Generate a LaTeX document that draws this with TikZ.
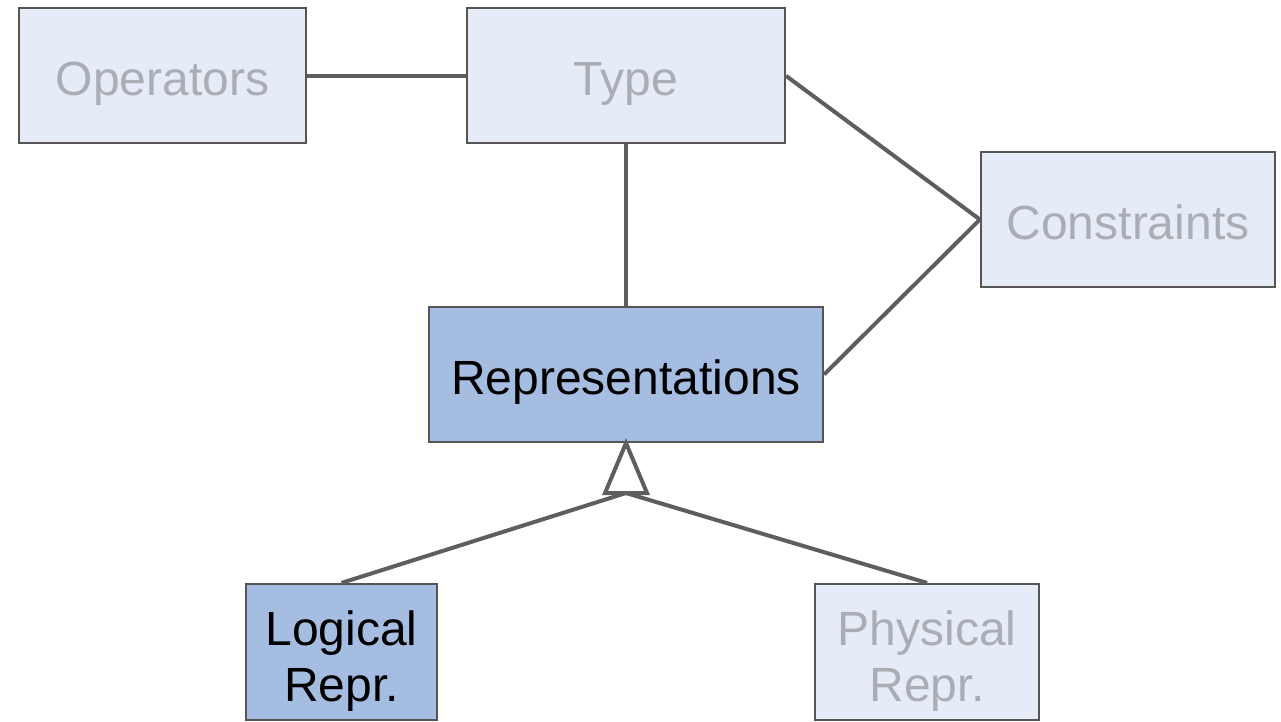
\documentclass[tikz,border=0pt]{standalone}
\usepackage{fontspec}
\setmainfont{Liberation Sans}
\definecolor{paleblue}{HTML}{E6ECF7}
\definecolor{midblue}{HTML}{A4BDE1}
\definecolor{fadedtext}{HTML}{AAAEB4}
\definecolor{edgegray}{HTML}{5E5E5E}
\definecolor{framegray}{HTML}{555555}
\begin{document}
\begin{tikzpicture}[x=1pt,y=-1pt,
  box/.style={draw=framegray,line width=2.2pt,rectangle,inner sep=0pt,
    font=\fontsize{48}{56}\selectfont,align=center},
  oneline/.style={text height=39pt,text depth=0pt},
  twoline/.style={text height=98pt,text depth=0pt},
  faded/.style={box,fill=paleblue,text=fadedtext},
  active/.style={box,fill=midblue,text=black},
  link/.style={draw=edgegray,line width=4pt},
  hollow/.style={draw=edgegray,line width=4pt,fill=white,line join=miter}]
\useasboundingbox (0,0) rectangle (1281,721);
% boxes: centres and sizes
\node[faded,oneline,minimum width=287pt,minimum height=135pt] (ops) at (162.5,75.5) {Operators};
\node[faded,oneline,minimum width=318pt,minimum height=135pt] (type) at (626,75.5) {Type};
\node[faded,oneline,minimum width=294pt,minimum height=135pt] (cons) at (1128,219.5) {Constraints};
\node[active,oneline,minimum width=394pt,minimum height=135pt] (repr) at (626,374.5) {Representations};
\node[active,twoline,minimum width=191pt,minimum height=136pt] (logi) at (341.5,652) {Logical\\Repr.};
\node[faded,twoline,minimum width=224pt,minimum height=136pt] (phys) at (927,652) {Physical\\Repr.};
% associations
\draw[link] (ops.east) -- (type.west);
\draw[link] (type.south) -- (repr.north);
\path (type.north east) ++(0,69) coordinate (tcorner);
\draw[link] (tcorner) -- (cons.west);
\draw[link] (repr.east) -- (cons.west);
% generalisation with hollow triangle
\coordinate (tribase) at (626,493);
\draw[link] (tribase) -- (logi.north);
\draw[link] (tribase) -- (phys.north);
\draw[hollow] (repr.south) -- (647,493) -- (605,493) -- cycle;
\end{tikzpicture}
\end{document}
